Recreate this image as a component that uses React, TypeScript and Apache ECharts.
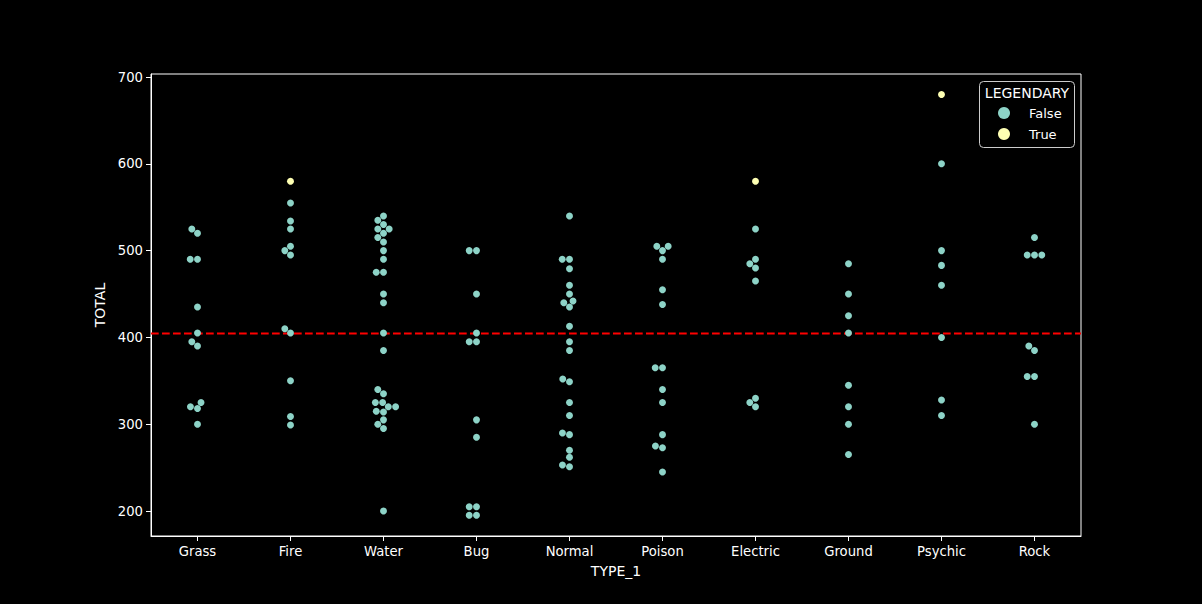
import React, { useEffect, useRef } from "react";
import * as echarts from "echarts";

// ---- data ----
const categories = ["Grass", "Fire", "Water", "Bug", "Normal", "Poison", "Electric", "Ground", "Psychic", "Rock"];

const grassFalse = [318, 405, 525, 320, 395, 490, 300, 390, 490, 325, 520, 435];
const grassTrue: number[] = [];
const fireFalse = [309, 405, 534, 299, 505, 350, 555, 410, 500, 495, 525];
const fireTrue = [580];
const waterFalse = [314, 405, 530, 320, 500, 300, 385, 510, 335, 515, 315, 490, 325, 475, 305, 525, 325, 475, 295, 440, 320, 450, 340, 520, 200, 540, 535, 525];
const waterTrue: number[] = [];
const bugFalse = [195, 205, 395, 195, 205, 395, 285, 405, 305, 450, 500, 500];
const bugTrue: number[] = [];
const normalFalse = [251, 349, 479, 253, 413, 262, 442, 270, 435, 290, 440, 352, 310, 460, 385, 450, 490, 490, 288, 325, 395, 540];
const normalTrue: number[] = [];
const poisonFalse = [288, 438, 275, 365, 505, 273, 365, 505, 245, 455, 325, 500, 340, 490];
const poisonTrue: number[] = [];
const electricFalse = [320, 485, 325, 465, 330, 480, 490, 525];
const electricTrue = [580];
const groundFalse = [300, 450, 265, 405, 320, 425, 345, 485];
const groundTrue: number[] = [];
const psychicFalse = [310, 400, 500, 328, 483, 460, 600];
const psychicTrue = [680];
const rockFalse = [300, 390, 495, 385, 355, 495, 355, 495, 515];
const rockTrue: number[] = [];

const falseByType = [grassFalse, fireFalse, waterFalse, bugFalse, normalFalse, poisonFalse, electricFalse, groundFalse, psychicFalse, rockFalse];
const trueByType = [grassTrue, fireTrue, waterTrue, bugTrue, normalTrue, poisonTrue, electricTrue, groundTrue, psychicTrue, rockTrue];

const yTicks = [200, 300, 400, 500, 600, 700];
const legendNames = ["False", "True"];

// ---- layout ----
const W = 1202;
const H = 604;
const GRID = { left: 151, right: 121, top: 74, bottom: 68 };
const Y_MIN = 171.2;
const Y_MAX = 703.5;
const R = 3.47; // marker radius in px

// seaborn-like beeswarm, in pixel space; returns x offsets (px)
function swarmOffsets(values: number[], pxPerUnit: number, r: number): number[] {
  const order = values.map((_, i) => i).sort((a, b) => values[a] - values[b]);
  const placed: { x: number; y: number }[] = [];
  const out = new Array(values.length).fill(0);
  const sep2 = 4 * r * r;
  for (const i of order) {
    const y = values[i] * pxPerUnit;
    const neighbors: { x: number; y: number }[] = [];
    for (let j = placed.length - 1; j >= 0; j--) {
      if (y - placed[j].y < 2 * r) neighbors.push(placed[j]);
      else break;
    }
    neighbors.reverse();
    const cands: number[] = [0];
    let leftFirst = true;
    for (const n of neighbors) {
      const dy = y - n.y;
      const dx = Math.sqrt(Math.max(sep2 - dy * dy, 0)) * 1.05;
      if (leftFirst) cands.push(n.x - dx, n.x + dx);
      else cands.push(n.x + dx, n.x - dx);
      leftFirst = !leftFirst;
    }
    const sorted = cands
      .map((c, k) => ({ c, k }))
      .sort((a, b) => Math.abs(a.c) - Math.abs(b.c) || a.k - b.k)
      .map((o) => o.c);
    let chosen = sorted[0];
    if (neighbors.length) {
      for (const c of sorted) {
        if (neighbors.every((n) => (n.x - c) ** 2 + (n.y - y) ** 2 >= sep2 - 1e-9)) {
          chosen = c;
          break;
        }
      }
    }
    placed.push({ x: chosen, y });
    out[i] = chosen;
  }
  return out;
}

export default function App() {
  const ref = useRef<HTMLDivElement>(null);

  useEffect(() => {
    if (!ref.current) return;
    const chart = echarts.init(ref.current, undefined, { renderer: "svg" });

    const plotW = W - GRID.left - GRID.right;
    const plotH = H - GRID.top - GRID.bottom;
    const pxPerCat = plotW / categories.length;
    const pxPerUnit = plotH / (Y_MAX - Y_MIN);

    const falseData: number[][] = [];
    const trueData: number[][] = [];
    let sum = 0;
    let count = 0;
    categories.forEach((_, ci) => {
      const vals = [...falseByType[ci], ...trueByType[ci]];
      const flags = [...falseByType[ci].map(() => false), ...trueByType[ci].map(() => true)];
      const offs = swarmOffsets(vals, pxPerUnit, R);
      vals.forEach((v, k) => {
        const pt = [ci + offs[k] / pxPerCat, v];
        (flags[k] ? trueData : falseData).push(pt);
        sum += v;
        count += 1;
      });
    });
    const mean = sum / count;

    const font = "DejaVu Sans";
    chart.setOption({
      animation: false,
      backgroundColor: "#000000",
      textStyle: { fontFamily: font },
      grid: {
        left: GRID.left,
        right: GRID.right,
        top: GRID.top,
        bottom: GRID.bottom,
        show: true,
        borderColor: "#ffffff",
        borderWidth: 1,
        backgroundColor: "#000000",
      },
      xAxis: [
        {
          type: "category",
          data: categories,
          boundaryGap: true,
          name: "TYPE_1",
          nameLocation: "middle",
          nameGap: 28,
          nameTextStyle: { color: "#ffffff", fontSize: 14, fontFamily: font },
          axisLine: { show: true, onZero: false, lineStyle: { color: "#ffffff", width: 1 } },
          axisTick: { show: true, alignWithLabel: true, length: 5, lineStyle: { color: "#ffffff" } },
          axisLabel: { color: "#ffffff", fontSize: 13.2, margin: 9, fontFamily: font },
          splitLine: { show: false },
        },
        {
          type: "value",
          min: -0.5,
          max: 9.5,
          show: false,
          splitLine: { show: false },
        },
      ],
      yAxis: {
        type: "value",
        min: Y_MIN,
        max: Y_MAX,
        name: "TOTAL",
        nameLocation: "middle",
        nameGap: 43,
        nameRotate: 90,
        nameTextStyle: { color: "#ffffff", fontSize: 14, fontFamily: font },
        axisLine: { show: true, onZero: false, lineStyle: { color: "#ffffff", width: 1 } },
        axisTick: { show: true, length: 5, lineStyle: { color: "#ffffff" }, customValues: yTicks },
        axisLabel: { color: "#ffffff", fontSize: 13.2, margin: 8, fontFamily: font, customValues: yTicks },
        splitLine: { show: false },
      },
      legend: {
        data: legendNames,
        orient: "vertical",
        left: 998,
        top: 106,
        padding: 0,
        itemWidth: 12,
        itemHeight: 12,
        itemGap: 7,
        icon: "circle",
        z: 10,
        textStyle: { color: "#ffffff", fontSize: 13, fontFamily: font, lineHeight: 14, padding: [0, 0, 0, 14] },
      },
      graphic: [
        {
          type: "rect",
          z: 9,
          shape: { x: 979.5, y: 81.5, width: 95, height: 66, r: 4 },
          style: { fill: "#000000", stroke: "#cccccc", lineWidth: 1 },
        },
        {
          type: "text",
          z: 10,
          x: 1027,
          y: 93,
          style: {
            text: "LEGENDARY",
            fill: "#ffffff",
            font: `14px "${font}"`,
            textAlign: "center",
            textVerticalAlign: "middle",
          },
        },
      ],
      series: [
        {
          name: "mean",
          type: "line",
          xAxisIndex: 1,
          yAxisIndex: 0,
          data: [
            [-0.5, mean],
            [9.5, mean],
          ],
          symbol: "none",
          z: 1,
          silent: true,
          lineStyle: { color: "#ff0000", width: 2, type: [7.7, 3.3] },
        },
        {
          name: "False",
          type: "scatter",
          xAxisIndex: 1,
          yAxisIndex: 0,
          data: falseData,
          symbol: "circle",
          symbolSize: R * 2,
          z: 3,
          itemStyle: { color: "#8dd3c7", opacity: 1 },
        },
        {
          name: "True",
          type: "scatter",
          xAxisIndex: 1,
          yAxisIndex: 0,
          data: trueData,
          symbol: "circle",
          symbolSize: R * 2,
          z: 3,
          itemStyle: { color: "#feffb3", opacity: 1 },
        },
      ],
    });

    return () => chart.dispose();
  }, []);

  return (
    <div
      ref={ref}
      style={{ position: "fixed", left: 0, top: 0, width: W, height: H, background: "#000000" }}
    />
  );
}
